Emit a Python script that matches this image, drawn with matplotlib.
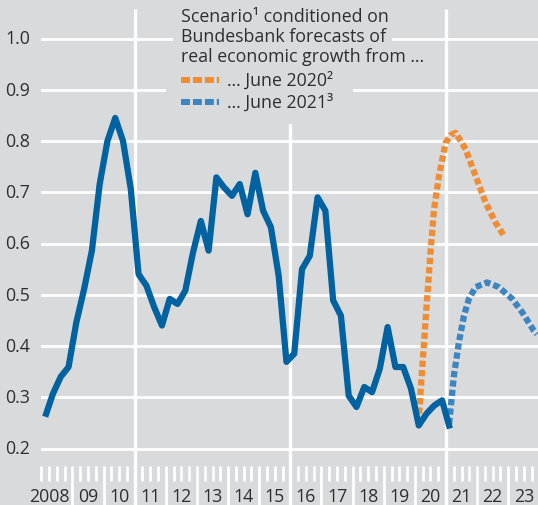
import numpy as np
import matplotlib
matplotlib.use("Agg")
import matplotlib.pyplot as plt
from matplotlib.lines import Line2D
from matplotlib.patches import Polygon

# ---------------- data ----------------
start_year = 2008
hist_values = [0.262, 0.307, 0.34, 0.359, 0.446, 0.511, 0.586, 0.716, 0.80, 0.845,
               0.80, 0.706, 0.54, 0.518, 0.476, 0.44, 0.492, 0.482, 0.508, 0.583,
               0.644, 0.586, 0.729, 0.709, 0.693, 0.716, 0.657, 0.738, 0.664, 0.632,
               0.537, 0.369, 0.385, 0.55, 0.576, 0.69, 0.664, 0.489, 0.459, 0.303,
               0.281, 0.32, 0.31, 0.356, 0.437, 0.359, 0.359, 0.317, 0.245, 0.268,
               0.284, 0.294, 0.239]

june2020_x = [2020.135, 2020.295, 2020.40, 2020.51, 2020.615, 2020.775, 2020.99,
              2021.16, 2021.31, 2021.63, 2021.95, 2022.27, 2022.59, 2022.86]
june2020_y = [0.268, 0.408, 0.498, 0.589, 0.667, 0.732, 0.797,
              0.812, 0.816, 0.784, 0.732, 0.68, 0.641, 0.615]

june2021_x = [2021.10, 2021.256, 2021.417, 2021.577, 2021.737, 2021.952, 2022.32,
              2022.69, 2023.125, 2023.446, 2023.82, 2023.92]
june2021_y = [0.248, 0.343, 0.408, 0.459, 0.492, 0.515, 0.524,
              0.515, 0.492, 0.466, 0.43, 0.423]

y_ticks = [0.2, 0.3, 0.4, 0.5, 0.6, 0.7, 0.8, 0.9, 1.0]
y_tick_labels = ["0.2", "0.3", "0.4", "0.5", "0.6", "0.7", "0.8", "0.9", "1.0"]
year_labels = ["2008", "09", "10", "11", "12", "13", "14", "15", "16",
               "17", "18", "19", "20", "21", "22", "23"]

title_lines = ["Scenario\u00b9 conditioned on",
               "Bundesbank forecasts of",
               "real economic growth from \u2026"]
legend_labels = ["\u2026 June 2020\u00b2", "\u2026 June 2021\u00b3"]

# ---------------- style ----------------
BG = "#d9dadc"
TXT = "#2e2e2e"
BLUE = "#0062a1"
BLUE_D = "#3d85c1"
ORANGE = "#f08c34"
FS = 12.8
plt.rcParams["font.family"] = ["Open Sans", "DejaVu Sans"]

W, H = 538, 506
fig = plt.figure(figsize=(W / 100, H / 100), dpi=100, facecolor=BG)

px_year = 31.13
x0_px = 41.3
y02_px = 449.5
px_unit = 512.5  # pixels per 1.0 of value

ax_left = x0_px / W
ax = fig.add_axes([ax_left, 0, 1 - ax_left, 1])
ax.set_facecolor(BG)
xmax = start_year + (W - x0_px) / px_year
ymin = 0.2 - (H - y02_px) / px_unit
ymax = 0.2 + y02_px / px_unit
ax.set_xlim(start_year, xmax)
ax.set_ylim(ymin, ymax)
ax.axis("off")

def py2val(py):
    return 0.2 + (y02_px - py) / px_unit

# horizontal gridlines
for v in y_ticks:
    ax.axhline(v, color="white", lw=2.0, zorder=1)

# 5-year vertical lines
for yr in [2011, 2016, 2021]:
    ax.plot([yr, yr], [ymin, py2val(10)], color="white", lw=2.4, zorder=1,
            solid_capstyle="butt")

# quarter ticks & year ticks
tick_top = py2val(466.5)
tick_bot = py2val(481.5)
for yr in range(start_year, 2024):
    for q in range(4):
        xx = yr + q / 4
        if q == 0 and yr in (2011, 2016, 2021):
            continue
        if q == 0 and yr != start_year:
            ax.plot([xx, xx], [tick_top, ymin], color="white", lw=2.0,
                    zorder=1, solid_capstyle="butt", clip_on=False)
        else:
            ax.plot([xx, xx], [tick_top, tick_bot], color="white", lw=2.0,
                    zorder=1, solid_capstyle="butt", clip_on=False)

# year labels
for i, lab in enumerate(year_labels):
    xc = start_year + i + 0.5
    if i == 0:
        xc = start_year + 0.25
    ax.text(xc, py2val(497), lab, ha="center", va="center", fontsize=FS,
            color=TXT, zorder=5)

# y tick labels
for v, lab in zip(y_ticks, y_tick_labels):
    fig.text(30 / W, 1 - (y02_px - (v - 0.2) * px_unit) / H, lab,
             ha="right", va="center", fontsize=FS, color=TXT)

# mask behind the legend text
mask_px = [(173, 0), (392, 0), (392, 68), (353, 68), (353, 125), (166, 125),
           (166, 68), (173, 68)]
mask = Polygon([(x / W, 1 - y / H) for x, y in mask_px], closed=True,
               transform=fig.transFigure, facecolor=BG, edgecolor="none",
               zorder=2)
ax.add_patch(mask)

# data lines
hist_x = start_year + (np.arange(len(hist_values)) + 0.5) / 4
ax.plot(june2020_x, june2020_y, color=ORANGE, lw=4.5,
        linestyle=(0, (1.0, 0.5)), dash_capstyle="butt", zorder=3)
ax.plot(june2021_x, june2021_y, color=BLUE_D, lw=4.5,
        linestyle=(0, (1.0, 0.5)), dash_capstyle="butt", zorder=3)
ax.plot(hist_x, hist_values, color=BLUE, lw=4.5, solid_joinstyle="round",
        solid_capstyle="butt", zorder=4)

# legend text
tx = 181
for py, line in zip([16.5, 36.5, 57], title_lines):
    fig.text(tx / W, 1 - py / H, line, ha="left", va="center",
             fontsize=FS, color=TXT)
for py, lab, col in zip([81, 103], legend_labels, [ORANGE, BLUE_D]):
    fig.add_artist(Line2D([181 / W, 219 / W], [1 - py / H, 1 - py / H],
                          transform=fig.transFigure, color=col, lw=4.3,
                          linestyle=(0, (1.5, 0.5)), dash_capstyle="butt"))
    fig.text(227 / W, 1 - py / H, lab, ha="left", va="center",
             fontsize=FS, color=TXT)

fig.savefig("out.png", dpi=100, facecolor=BG)
